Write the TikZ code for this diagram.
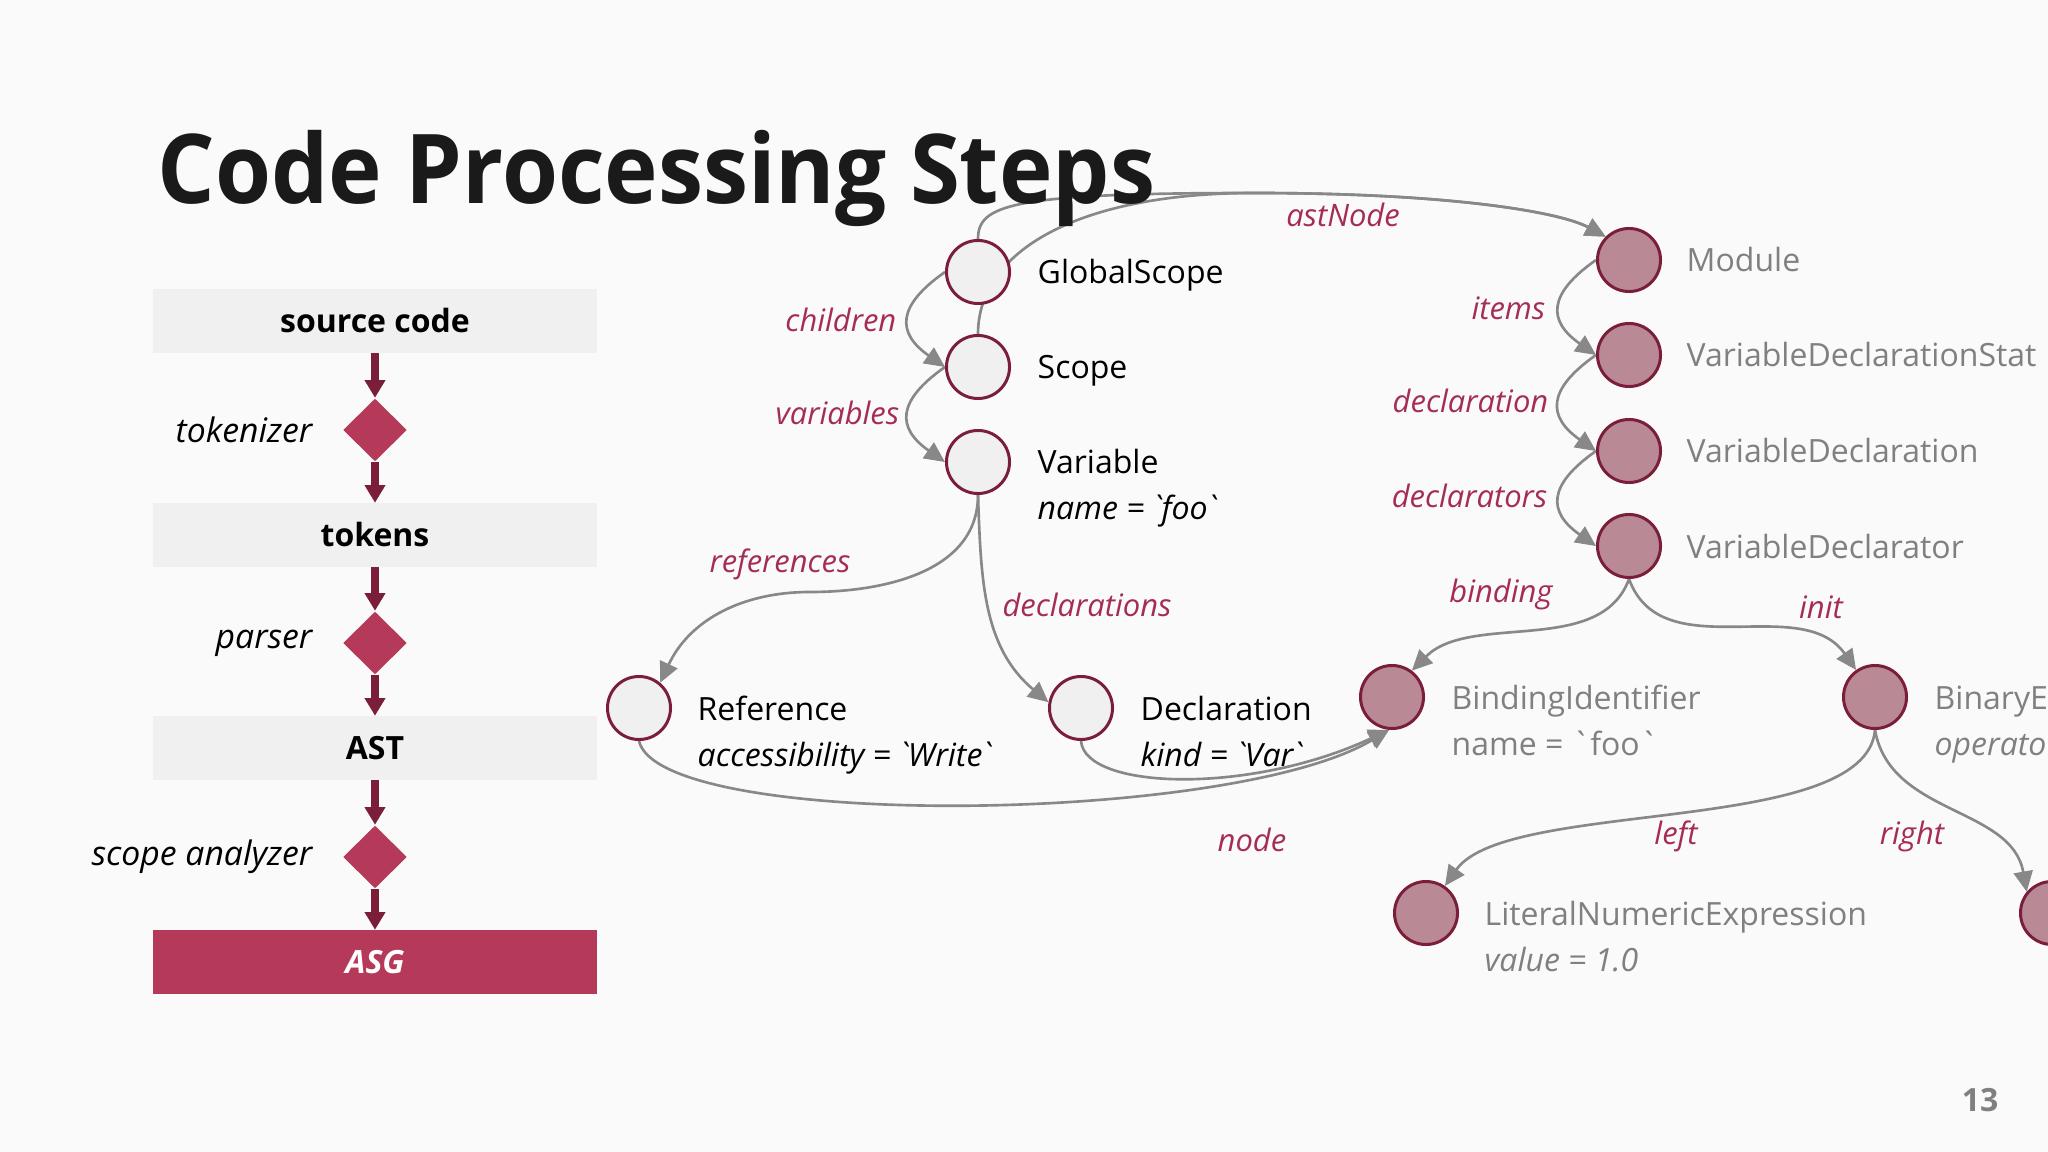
\documentclass[tikz,border=0pt]{standalone}
\usepackage{fontspec}
\setmainfont{Open Sans}
\newfontfamily\titlefont[FakeStretch=0.94]{Open Sans}
\usetikzlibrary{arrows.meta,shapes.geometric,backgrounds}

\definecolor{bgcol}{RGB}{250,250,250}
\definecolor{boxcol}{RGB}{240,240,240}
\definecolor{crimson}{RGB}{181,57,88}
\definecolor{maroon}{RGB}{122,30,58}
\definecolor{mauve}{RGB}{185,138,149}
\definecolor{scopefill}{RGB}{240,240,240}
\definecolor{edgecol}{RGB}{136,136,136}
\definecolor{labcol}{RGB}{165,45,85}
\definecolor{asttext}{RGB}{128,128,128}
\definecolor{titlecol}{RGB}{26,26,26}

\newcommand{\bq}{\textasciigrave}
\newcommand{\bodyfont}{\fontsize{9.1}{11}\selectfont}

\begin{document}
\begin{tikzpicture}[x=0.01cm,y=0.01cm,
txt/.style ={inner sep=0pt, font=\bodyfont},
ttl/.style ={inner sep=0pt, anchor=base west, text=titlecol, font=\titlefont\fontsize{27.4}{30}\selectfont\bfseries},
box/.style ={rectangle, fill=boxcol, minimum width=4.44cm, minimum height=0.63cm, inner sep=0pt, font=\bodyfont\bfseries},
dia/.style ={diamond, fill=crimson, minimum width=0.64cm, minimum height=0.63cm, inner sep=0pt},
stplab/.style ={txt, anchor=east, font=\fontsize{9.6}{11}\selectfont\itshape},
flow/.style ={maroon, line width=2.2pt, -{Triangle[length=5pt,width=5.6pt]}},
scp/.style ={circle, draw=maroon, line width=0.85pt, fill=scopefill, minimum size=0.63cm, inner sep=0pt},
ast/.style ={scp, fill=mauve},
nm/.style ={txt, anchor=base west},
astnm/.style ={nm, text=asttext},
lab/.style ={txt, text=labcol, font=\fontsize{8.8}{11}\selectfont\itshape},
link/.style ={edgecol, line width=0.75pt, -{Triangle[length=5.8pt,width=5.4pt]}},
chn/.style ={link, out=215, in=145, looseness=1.6}]

\begin{pgfonlayer}{background}
\fill[bgcol] (0,0) rectangle (2048,-1152);
\end{pgfonlayer}
\useasboundingbox (0,0) rectangle (2048,-1152);
\clip (0,0) rectangle (2048,-1152);

\draw (157,-204) node[ttl] (Title) {Code Processing Steps};

% processing steps
\draw (375,-321) node[box] (Src) {source code};
\draw (375,-535) node[box] (Tok) {tokens};
\draw (375,-748) node[box] (AST) {AST};
\draw (375,-962) node[box, fill=crimson, text=white, font=\bodyfont\bfseries\itshape] (ASG) {ASG};
\draw (375,-430) node[dia] (Tkz) {};
\draw (375,-643) node[dia] (Prs) {};
\draw (375,-857) node[dia] (Ana) {};
\draw (313,-430) node[stplab] (TkzL) {tokenizer};
\draw (313,-643) node[stplab] (PrsL) {parser};
\draw (313,-857) node[stplab] (AnaL) {scope analyzer};
\draw[flow] (Src)--(Tkz);
\draw[flow] (Tkz)--(Tok);
\draw[flow] (Tok)--(Prs);
\draw[flow] (Prs)--(AST);
\draw[flow] (AST)--(Ana);
\draw[flow] (Ana)--(ASG);

% scope graph
\draw (978,-272) node[scp] (GS) {};
\draw (978,-367) node[scp] (Sc) {};
\draw (978,-462) node[scp] (Var) {};
\draw (639,-708) node[scp] (Ref) {};
\draw (1081,-708) node[scp] (Dec) {};
\draw (1037,-284) node[nm] (GSt) {GlobalScope};
\draw (1037,-379) node[nm] (Sct) {Scope};
\draw (1037,-474) node[nm] (Vart) {Variable};
\draw (1037,-520) node[nm, font=\bodyfont\itshape] (Vara) {name = \bq foo\bq};
\draw (697,-720) node[nm] (Reft) {Reference};
\draw (697,-766) node[nm, font=\bodyfont\itshape] (Refa) {accessibility = \bq Write\bq};
\draw (1140,-720) node[nm] (Dect) {Declaration};
\draw (1140,-766) node[nm, font=\bodyfont\itshape] (Deca) {kind = \bq Var\bq};

% syntax tree
\draw (1629,-260) node[ast] (Mod) {};
\draw (1629,-355) node[ast] (VDS) {};
\draw (1629,-451) node[ast] (VD) {};
\draw (1629,-546) node[ast] (VDr) {};
\draw (1392,-697) node[ast] (BId) {};
\draw (1875,-697) node[ast] (Bin) {};
\draw (1426,-913) node[ast] (Lit) {};
\draw (2052,-913) node[ast] (Rgt) {};
\draw (1686,-272) node[astnm] (Modt) {Module};
\draw (1686,-367) node[astnm] (VDSt) {VariableDeclarationStat};
\draw (1686,-463) node[astnm] (VDt) {VariableDeclaration};
\draw (1686,-558) node[astnm] (VDrt) {VariableDeclarator};
\draw (1451,-709) node[astnm] (BIdt) {BindingIdentifier};
\draw (1451,-755) node[astnm] (BIda) {name = \bq foo\bq};
\draw (1934,-709) node[astnm] (Bint) {BinaryE};
\draw (1934,-755) node[astnm, font=\bodyfont\itshape] (Bina) {operato};
\draw (1484,-925) node[astnm] (Litt) {LiteralNumericExpression};
\draw (1484,-971) node[astnm, font=\bodyfont\itshape] (Lita) {value = 1.0};

% edge labels
\draw (1343,-215) node[lab] (LAst) {astNode};
\draw (897,-320) node[lab, anchor=east] (LChi) {children};
\draw (900,-413) node[lab, anchor=east] (LVar) {variables};
\draw (780,-564) node[lab] (LRef) {references};
\draw (1087,-605) node[lab] (LDec) {declarations};
\draw (1252,-840) node[lab] (LNode) {node};
\draw (1546,-308) node[lab, anchor=east] (LItm) {items};
\draw (1549,-401) node[lab, anchor=east] (LDcl) {declaration};
\draw (1548,-496) node[lab, anchor=east] (LDcs) {declarators};
\draw (1501,-594) node[lab] (LBnd) {binding};
\draw (1821,-607) node[lab] (LIni) {init};
\draw (1676,-836) node[lab] (LLft) {left};
\draw (1912,-836) node[lab] (LRgt) {right};

\draw (1980,-1100) node[txt, text=asttext, font=\bodyfont\bfseries] (Page) {13};

\coordinate (Join) at (1254,-193);
\coordinate (RefBend) at (810,-592);

\begin{pgfonlayer}{background}
\draw[chn] (GS.west) to (Sc.west);
\draw[chn] (Sc.west) to (Var.west);
\draw[chn] (Mod.west) to (VDS.west);
\draw[chn] (VDS.west) to (VD.west);
\draw[chn] (VD.west) to (VDr.west);
\draw[link] (GS.north) .. controls (978,-205) and (1010,-193) .. (Join) .. controls (1450,-193) and (1560,-212) .. (Mod.135);
\draw[link] (Sc.north) .. controls (978,-250) and (1080,-193) .. (Join) .. controls (1450,-193) and (1560,-212) .. (Mod.135);
\draw[link] (Var.south) to[out=-90,in=0] (RefBend) to[out=180,in=65] (Ref.50);
\draw[link] (Var.south) to[out=-88,in=140] (Dec.170);
\draw[link] (Ref.south) .. controls (660,-830) and (1230,-825) .. (BId.265);
\draw[link] (Dec.south) .. controls (1085,-790) and (1250,-795) .. (BId.265);
\draw[link] (VDr.south) to[out=-110,in=45,looseness=0.9] (BId.53);
\draw[link] (VDr.south) to[out=-70,in=125] (Bin.125);
\draw[link] (Bin.south) to[out=-95,in=55,looseness=0.6] (Lit.55);
\draw[link] (Bin.south) to[out=-80,in=100] (Rgt.140);
\end{pgfonlayer}

\end{tikzpicture}
\end{document}
